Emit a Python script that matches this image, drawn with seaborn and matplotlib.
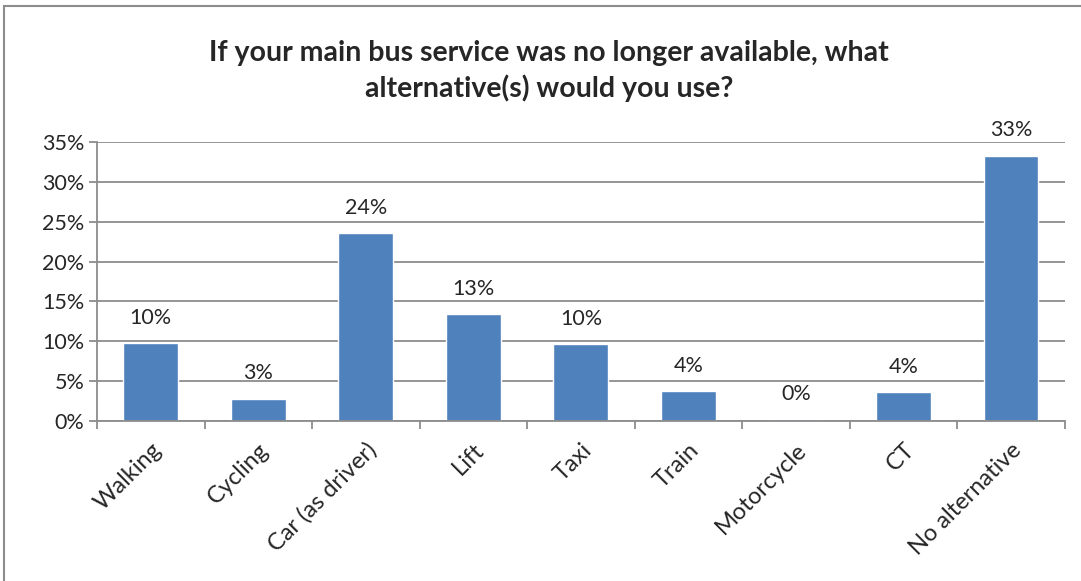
import numpy as np
import pandas as pd
import seaborn as sns
import matplotlib.pyplot as plt
from matplotlib.patches import Rectangle
from matplotlib.ticker import PercentFormatter, FixedLocator

categories = ['Walking', 'Cycling', 'Car (as driver)', 'Lift', 'Taxi',
              'Train', 'Motorcycle', 'CT', 'No alternative']
shares = [9.8, 2.8, 23.6, 13.4, 9.6, 3.7, 0.2, 3.6, 33.3]
title = 'If your main bus service was no longer available, what\nalternative(s) would you use?'

sns.set_style('white')
plt.rcParams['font.family'] = ['Lato', 'DejaVu Sans']

df = pd.DataFrame({'mode': categories, 'share': shares})

fig = plt.figure(figsize=(10.81, 5.81), dpi=100)
ax = fig.add_axes([0.0897, 0.2754, 0.8953, 0.4802])

sns.barplot(data=df, x='mode', y='share', color='#4F81BD', width=0.51,
            saturation=1, ax=ax)

ax.set_ylim(0, 35)
ax.set_xlim(-0.5, len(categories) - 0.5)
ax.yaxis.set_major_locator(FixedLocator(np.arange(0, 36, 5)))
ax.yaxis.set_major_formatter(PercentFormatter(decimals=0))
ax.grid(axis='y', color='#8c8c8c', linewidth=1.3)
ax.set_axisbelow(True)

ax.xaxis.set_minor_locator(FixedLocator(np.arange(-0.5, len(categories), 1)))
ax.tick_params(axis='x', which='major', length=0, pad=13, labelsize=17)
ax.tick_params(axis='x', which='minor', length=6, color='#8c8c8c', width=1.3, bottom=True)
ax.tick_params(axis='y', length=6, color='#8c8c8c', width=1.3, left=True, labelsize=15.5, pad=3)
plt.setp(ax.get_xticklabels(), rotation=45, ha='right', va='top', rotation_mode='anchor')

for side in ['top', 'right']:
    ax.spines[side].set_visible(False)
for side in ['left', 'bottom']:
    ax.spines[side].set_color('#8c8c8c')
    ax.spines[side].set_linewidth(1.3)

ax.set_xlabel('')
ax.set_ylabel('')

ax.bar_label(ax.containers[0], labels=[f'{v:.0f}%' for v in shares],
             padding=11, fontsize=15.5)

fig.text(0.508, 0.878, title, ha='center', va='center', fontsize=20.5,
         fontweight='bold', linespacing=1.35)

fig.patches.append(Rectangle((0.004, -0.01), 1.1, 1.0, transform=fig.transFigure,
                             fill=False, edgecolor='#8c8c8c', linewidth=1.5))

fig.savefig('out.png', dpi=100)
